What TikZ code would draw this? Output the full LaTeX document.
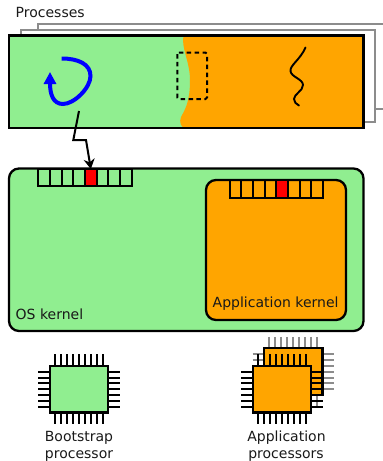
\documentclass[tikz,border=0pt]{standalone}
\usepackage{fontspec}
\setmainfont{DejaVu Sans}
\usetikzlibrary{arrows.meta}
\definecolor{lgreen}{HTML}{90EE90}
\definecolor{orng}{HTML}{FFA500}
\definecolor{sheet}{HTML}{8C8C8C}
\definecolor{blueloop}{HTML}{0000FF}
\tikzset{
  x=1pt,y=-1pt,
  line/.style={draw=black,line width=2.3pt},
  backsheet/.style={draw=sheet,line width=2pt,fill=white},
  label/.style={font=\fontsize{14}{16}\selectfont,anchor=base,inner sep=0pt,text=black!90},
  box/.style={line,anchor=north west,inner sep=0pt,outer sep=0pt},
  cell/.style={draw=black,line width=1.9pt,anchor=north west,inner sep=0pt,outer sep=0pt,minimum width=11.67pt,minimum height=#1},
}
% \ChipPins{x}{y}{colour}: pins of a chip whose body has its top-left corner at (x,y)
\newcommand{\ChipPins}[3]{%
  \foreach \i in {0,...,8} {
    \draw[#3,line width=2pt] (#1+5+\i*6.0,#2-11.5) -- (#1+5+\i*6.0,#2+58.5);
  }
  \foreach \i in {0,...,6} {
    \draw[#3,line width=2pt] (#1-11.7,#2+6+\i*5.83) -- (#1+69.5,#2+6+\i*5.83);
  }
}
\begin{document}
\begin{tikzpicture}
\useasboundingbox (0,0) rectangle (383,461);
% process sheets
\draw[backsheet] (383,24) -- (38,24) -- (38,40) (383,109) -- (360,109);
\draw[backsheet] (21,40) -- (21,29.5) -- (375,29.5) -- (375,122) -- (355,122);
\node[label,anchor=base west] (proc) at (15.5,17.5) {Processes};
% main process
\fill[lgreen] (9,35.5) rectangle (363.5,128);
\fill[orng] (183.5,35.5) .. controls (181,48) and (190,62) .. (190,80)
  .. controls (190,100) and (186,108) .. (181,117)
  .. controls (179,122) and (181,127) .. (184,127.5)
  -- (363.5,128) -- (363.5,35.5) -- cycle;
\node[box,minimum width=354.5pt,minimum height=92.5pt] (process) at (9,35.5) {};
% loop
\coordinate (loopstart) at (61.7,58.5);
\coordinate (looptip) at (50,72);
\draw[blueloop,line width=4pt,-{Triangle[length=12pt,width=12pt]}]
  (loopstart) .. controls (78,58.5) and (90.5,64) .. (90.5,76)
  .. controls (90.5,88) and (74,104) .. (63,104)
  .. controls (53,104) and (50,94) .. (looptip);
% dashed window
\draw[black,line width=2pt,dash pattern=on 4.5pt off 3.4pt,rounded corners=1.5pt]
  (177.3,52.5) -- (207,52.5) -- (207,99) -- (177.3,99) -- cycle;
% squiggle
\draw[black,line width=1.9pt,line cap=round] (305.5,47.5)
  .. controls (300,60) and (290,65) .. (290.5,71)
  .. controls (291,77) and (303,79) .. (303,85)
  .. controls (303,91) and (294,94) .. (294,99)
  .. controls (294,102) and (296,104) .. (299,105.5);
% OS kernel
\node[box,fill=lgreen,rounded corners=10pt,minimum width=354.5pt,minimum height=162.5pt] (oskernel) at (9,168.5) {};
\node[box,fill=orng,rounded corners=10pt,minimum width=140pt,minimum height=140pt] (appkernel) at (206,180) {};
% queues
\foreach \n in {1,...,8} {
  \node[cell=17.3pt] (osq\n) at (38.3+\n*11.67-11.67,169) {};
  \node[cell=18pt] (apq\n) at (229.7+\n*11.67-11.67,180) {};
}
\node[cell=17.3pt,fill=red] (osred) at (38.3+4*11.67,169) {};
\node[cell=18pt,fill=red] (apred) at (229.7+4*11.67,180) {};
% interrupt arrow
\coordinate (irqsrc) at (79,111);
\coordinate (irqa) at (73.3,140);
\coordinate (irqb) at (86,140);
\draw[black,line width=2pt,-{Stealth[length=10pt,width=11pt]}] (irqsrc) -- (irqa) -- (irqb) -- (osred.north);
% labels
\node[label,anchor=base west] (oslabel) at (15.5,319.5) {OS kernel};
\node[label,anchor=base west] (aplabel) at (212.5,307.5) {Application kernel};
% chips
\ChipPins{264.3}{348.3}{sheet}
\node[box,fill=orng,minimum width=58.3pt,minimum height=46.7pt] (chipback) at (264.3,348.3) {};
\ChipPins{50}{365.7}{black}
\node[box,fill=lgreen,minimum width=58.3pt,minimum height=46.7pt] (chipboot) at (50,365.7) {};
\ChipPins{253}{365.7}{black}
\node[box,fill=orng,minimum width=58.3pt,minimum height=46.7pt] (chipapp) at (253,365.7) {};
\node[label] (bl1) at (79,441.5) {Bootstrap};
\node[label] (bl2) at (79,458.5) {processor};
\node[label] (al1) at (286.5,441.5) {Application};
\node[label] (al2) at (286,458.5) {processors};
\end{tikzpicture}
\end{document}
